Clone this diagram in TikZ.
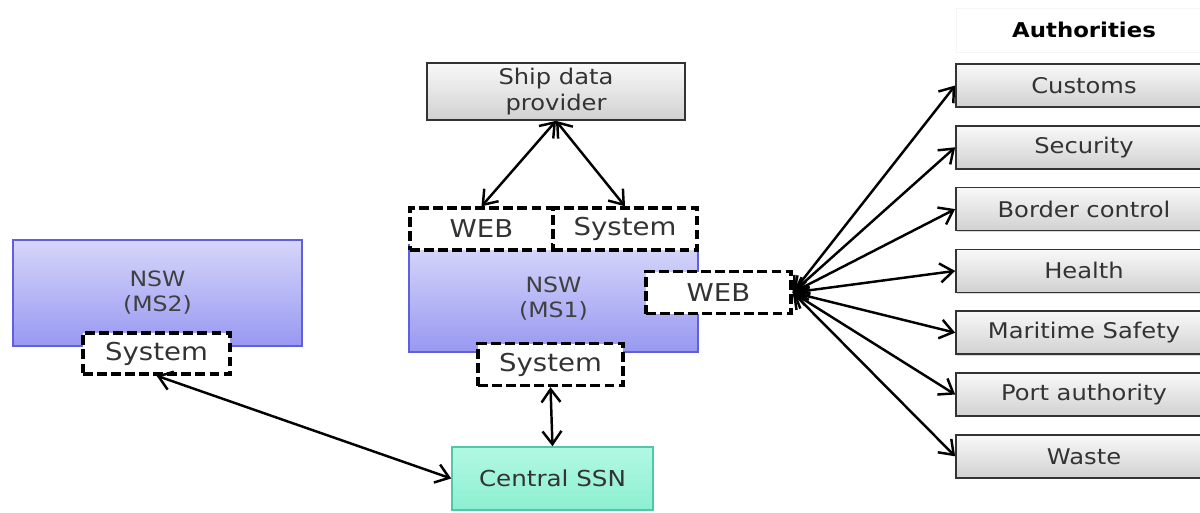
\documentclass[tikz,border=0pt]{standalone}
\usepackage{fontspec}
\setmainfont[FakeStretch=1.12]{DejaVu Sans}
\usepackage{color}
\usepackage{tikz}
\usetikzlibrary{arrows.meta,shadows}

\definecolor{nswtop}{RGB}{214,214,250}
\definecolor{nswbot}{RGB}{152,152,242}
\definecolor{nswline}{RGB}{96,96,222}
\definecolor{ssntop}{RGB}{178,248,226}
\definecolor{ssnbot}{RGB}{140,240,208}
\definecolor{ssnline}{RGB}{80,200,168}

\tikzset{
  graybox/.style={draw=black!80, line width=1pt, top color=gray!5, bottom color=gray!36,
    drop shadow={shadow xshift=0.8pt, shadow yshift=-0.8pt, opacity=0.3},
    inner sep=0pt, align=center, text=black!80, font=\fontsize{12.3}{14.8}\selectfont},
  nswbox/.style={draw=nswline, line width=0.9pt, top color=nswtop, bottom color=nswbot,
    minimum width=5.78cm, minimum height=2.13cm, inner sep=0pt, align=center,
    text=black!75, font=\fontsize{12}{14.2}\selectfont},
  dashbox/.style={draw=black, fill=white, line width=1.9pt, dash pattern=on 5.5pt off 2.5pt,
    minimum width=2.9cm, minimum height=0.84cm, inner sep=0pt, text=black!80,
    font=\fontsize{14}{16}\selectfont},
  link/.style={{Straight Barb[length=2.6mm,width=3.8mm]}-{Straight Barb[length=2.6mm,width=3.8mm]}, line width=1.4pt},
}

\begin{document}
\begin{tikzpicture}[x=0.02cm, y=-0.02cm]
\useasboundingbox (0,0) rectangle (1200,512);
\clip (0,0) rectangle (1200,512);

% ship data provider
\node [graybox, minimum width=5.16cm, minimum height=1.14cm] (ship) at (556,91.5) {Ship data\\provider};

% member state 1
\node [nswbox] (ms1) at (553.5,298.5) {NSW\\(MS1)};
\node [dashbox, minimum width=2.86cm] (web1) at (481.5,229) {WEB};
\node [dashbox, minimum width=2.88cm] (sys1) at (625,229) {System};
\node [dashbox] (webr) at (718.5,292.5) {WEB};
\node [dashbox] (sysb) at (550.5,364.5) {System};

% member state 2
\node [nswbox] (ms2) at (157.5,293) {NSW\\(MS2)};
\node [dashbox, minimum width=2.94cm, minimum height=0.82cm] (sys2) at (156.5,353.5) {System};

% central ssn
\node [draw=ssnline, line width=0.9pt, top color=ssntop, bottom color=ssnbot,
  minimum width=4.02cm, minimum height=1.26cm, text=black!80,
  font=\fontsize{12.5}{15}\selectfont] (ssn) at (552.5,478.5) {Central SSN};

% authorities
\node [draw=gray!8, fill=white, minimum width=5.1cm, minimum height=0.88cm,
  font=\fontsize{11.6}{13}\selectfont\bfseries] (authhead) at (1084,30) {Authorities};
\foreach \name [count=\i from 0] in {Customs,Security,Border control,Health,Maritime Safety,Port authority,Waste}{
  \node [graybox, minimum width=5.12cm, minimum height=0.86cm] (auth\i) at (1084,85.5+61.8*\i) {\name};
  \draw [link] (webr.east) -- (auth\i.west);
}

% links
\draw [link] (web1.north) -- (ship.south);
\draw [link] (ship.south) -- (sys1.north);
\draw [link] (sysb.south) -- (ssn.north);
\draw [link] (sys2.south) -- (ssn.west);
\end{tikzpicture}
\end{document}
